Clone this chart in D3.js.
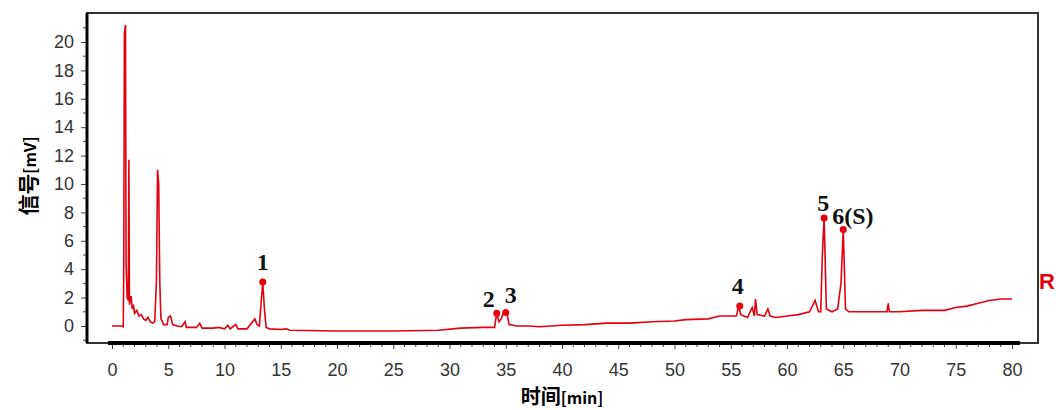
<!DOCTYPE html>
<head>
  <meta charset="utf-8">
  <script src="https://d3js.org/d3.v7.min.js"></script>
</head>
<body>
  <div id="chart"></div>

  <script>
    var width = 1056;
    var height = 410;

    // chromatogram trace, time [min] and signal [mV]
    var times = [0, 0.9, 1.0, 1.05, 1.1, 1.2, 1.25, 1.35, 1.45, 1.5, 1.55, 1.7, 1.8, 1.9, 2.0, 2.2, 2.4, 2.6, 2.8, 3.0,
      3.2, 3.4, 3.6, 3.8, 3.95, 4.05, 4.15, 4.25, 4.35, 4.6, 4.9, 5.0, 5.2, 5.4, 5.8, 6.2, 6.5, 6.6, 7.5, 7.8,
      8.0, 9.0, 9.5, 10.0, 10.3, 10.5, 11.0, 11.2, 12.0, 12.7, 12.9, 13.1, 13.25, 13.4, 13.55, 13.7, 14.0, 15.0, 15.5, 15.8,
      20, 25, 29, 31, 33, 34.0, 34.2, 34.4, 34.6, 34.8, 35.1, 35.3, 36, 37, 38, 40, 42, 44, 46, 48,
      50, 51, 53, 54, 55.5, 55.7, 55.9, 56.5, 56.9, 57.1, 57.2, 57.35, 58, 58.3, 58.5, 59, 60, 61, 62, 62.5,
      62.8, 63.0, 63.15, 63.3, 63.5, 64, 64.5, 64.8, 65.0, 65.2, 65.5, 66, 67, 68, 68.9, 69.0, 69.1, 70, 72, 74,
      75, 76, 77, 78, 79, 80];
    var signal = [0, 0, -0.05, 4.6, 20.6, 21.2, 4.5, 2.0, 1.8, 11.7, 1.5, 2.1, 1.2, 1.5, 0.9, 1.1, 0.7, 0.8, 0.5, 0.4,
      0.6, 0.3, 0.2, 0.3, 3.2, 11.0, 10.0, 3.0, 0.5, 0.1, 0.1, 0.6, 0.7, 0.1, 0.0, -0.05, 0.3, -0.1, -0.1, 0.2,
      -0.15, -0.15, -0.1, -0.2, 0.05, -0.2, 0.1, -0.2, -0.2, 0.5, 0.1, 0.0, 1.6, 3.1, 1.2, -0.1, -0.2, -0.25, -0.2, -0.3,
      -0.35, -0.35, -0.3, -0.15, -0.1, -0.1, 0.9, 0.3, 0.5, 1.0, 0.95, 0.1, 0, 0, -0.05, 0.05, 0.1, 0.2, 0.2, 0.3,
      0.35, 0.45, 0.5, 0.7, 0.7, 1.4, 0.8, 0.6, 1.3, 0.7, 1.9, 0.8, 0.7, 1.2, 0.7, 0.6, 0.7, 0.8, 1.0, 1.8,
      1.0, 1.0, 5.2, 7.6, 1.2, 1.0, 1.2, 3.0, 6.8, 1.2, 1.0, 1.0, 1.0, 1.0, 1.0, 1.6, 1.0, 1.0, 1.1, 1.1,
      1.3, 1.4, 1.6, 1.8, 1.9, 1.9];

    // labelled peaks
    var peakLabels = ['1', '2', '3', '4', '5', '6(S)'];
    var peakTimes = [13.4, 34.2, 35.0, 55.8, 63.3, 65.0];
    var peakValues = [3.1, 0.9, 0.95, 1.4, 7.6, 6.8];

    var xTicks = d3.range(0, 81, 5);
    var yTicks = d3.range(0, 21, 2);

    var trace = times.map((t, i) => ({t: t, v: signal[i]}));
    var peaks = peakLabels.map((l, i) => ({label: l, t: peakTimes[i], v: peakValues[i]}));

    var x = d3.scaleLinear().domain([0, 80]).range([112, 1012]);
    var y = d3.scaleLinear().domain([0, 20]).range([326, 42]);

    var svg = d3.select('#chart')
      .append('svg')
        .attr('width', width)
        .attr('height', height);

    // plot frame
    svg.append('rect')
      .attr('x', 87).attr('y', 13)
      .attr('width', 1038 - 87).attr('height', 343 - 13)
      .attr('fill', 'none')
      .attr('stroke', '#333')
      .attr('stroke-width', 2);

    // x axis
    var xAxis = d3.axisBottom(x).tickValues(xTicks).tickSize(6).tickPadding(14);
    var gx = svg.append('g')
      .attr('class', 'axis')
      .attr('transform', 'translate(0,343)')
      .call(xAxis);
    gx.select('.domain').remove();
    gx.selectAll('.minor')
      .data(d3.range(0, 81, 1).filter(d => d % 5 != 0))
      .join('line')
        .attr('x1', d => x(d)).attr('x2', d => x(d))
        .attr('y1', 0).attr('y2', 4)
        .attr('stroke', '#444');
    svg.append('line')
      .attr('x1', x(-0.35)).attr('x2', x(80.7))
      .attr('y1', 343).attr('y2', 343)
      .attr('stroke', '#000').attr('stroke-width', 4);

    // y axis
    var yAxis = d3.axisLeft(y).tickValues(yTicks).tickSize(6).tickPadding(7);
    var gy = svg.append('g')
      .attr('class', 'axis')
      .attr('transform', 'translate(87,0)')
      .call(yAxis);
    gy.select('.domain').remove();
    gy.selectAll('.minor')
      .data(d3.range(-1, 22, 1).filter(d => d % 2 != 0))
      .join('line')
        .attr('y1', d => y(d)).attr('y2', d => y(d))
        .attr('x1', 0).attr('x2', -4)
        .attr('stroke', '#444');
    svg.append('line')
      .attr('x1', 87).attr('x2', 87)
      .attr('y1', 13).attr('y2', 343)
      .attr('stroke', '#000').attr('stroke-width', 3);

    // the trace
    var line = d3.line().x(d => x(d.t)).y(d => y(d.v));
    svg.append('path')
      .datum(trace)
      .attr('d', line)
      .attr('fill', 'none')
      .attr('stroke', '#e3000f')
      .attr('stroke-width', 1.6)
      .attr('stroke-linejoin', 'miter');

    // peak markers
    svg.append('g')
      .selectAll('circle')
      .data(peaks)
      .join('circle')
        .attr('cx', d => x(d.t))
        .attr('cy', d => y(d.v))
        .attr('r', 3.5)
        .attr('fill', '#e3000f');

    var labelOffset = {
      '1': [0, -12, 'middle'],
      '2': [-8, -6, 'middle'],
      '3': [5, -10, 'middle'],
      '4': [-2, -12, 'middle'],
      '5': [-1, -7, 'middle'],
      '6(S)': [-11, -5, 'start']
    };
    svg.append('g')
      .selectAll('text')
      .data(peaks)
      .join('text')
        .attr('class', 'peak')
        .attr('x', d => x(d.t) + labelOffset[d.label][0])
        .attr('y', d => y(d.v) + labelOffset[d.label][1])
        .attr('text-anchor', d => labelOffset[d.label][2])
        .text(d => d.label);

    // axis titles
    var xt = svg.append('text')
      .attr('class', 'title')
      .attr('x', 562).attr('y', 404)
      .attr('text-anchor', 'middle');
    xt.append('tspan').attr('font-size', 20).text('时间');
    xt.append('tspan').attr('font-size', 16).text('[min]');

    var yt = svg.append('text')
      .attr('class', 'title')
      .attr('transform', 'translate(36,176) rotate(-90)')
      .attr('text-anchor', 'middle');
    yt.append('tspan').attr('font-size', 21).text('信号');
    yt.append('tspan').attr('font-size', 16).text('[mV]');

    // legend letter at the right edge
    svg.append('text')
      .attr('x', 1039).attr('y', 289)
      .attr('font-family', 'Liberation Sans, Arial, sans-serif')
      .attr('font-weight', 'bold')
      .attr('font-size', 22)
      .attr('fill', '#e3000f')
      .text('R');
  </script>
</body>

<style>
  body {
    margin: 0;
    background-color: #fff;
  }
  .axis text {
    font-family: 'Liberation Sans', Arial, sans-serif;
    font-size: 18px;
    fill: #333;
  }
  .axis line {
    stroke: #444;
  }
  .peak {
    font-family: 'Liberation Serif', 'Times New Roman', serif;
    font-weight: bold;
    font-size: 24px;
    fill: #111;
  }
  .title {
    font-family: 'Noto Sans CJK SC', 'Liberation Sans', sans-serif;
    font-weight: bold;
    fill: #000;
  }
</style>
